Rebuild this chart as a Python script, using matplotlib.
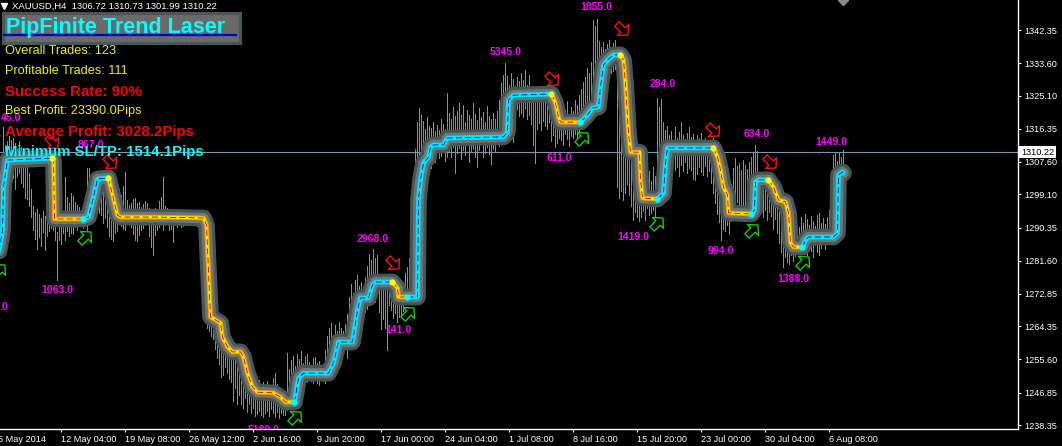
import numpy as np
import matplotlib
matplotlib.use("Agg")
import matplotlib.pyplot as plt
from matplotlib.path import Path
from matplotlib.patches import Rectangle
from matplotlib.lines import Line2D
from matplotlib.transforms import Affine2D, blended_transform_factory

plt.rcParams["font.family"] = ["Liberation Sans", "DejaVu Sans"]

# ---- data --------------------------------------------------------------
symbol_line = "XAUUSD,H4  1306.72 1310.73 1301.99 1310.22"
last_price = 1310.22

price_ticks = [1342.35, 1333.60, 1325.10, 1316.35, 1307.60, 1299.10, 1290.35,
               1281.60, 1272.85, 1264.35, 1255.60, 1246.85, 1238.35]
first_date = "5 May 2014"
date_ticks = [32, 64, 96, 128, 160, 192, 224, 256, 288, 320, 352, 384, 416]
date_labels = ["12 May 04:00", "19 May 08:00", "26 May 12:00", "2 Jun 16:00",
               "9 Jun 20:00", "17 Jun 00:00", "24 Jun 04:00", "1 Jul 08:00",
               "8 Jul 16:00", "15 Jul 20:00", "23 Jul 00:00", "30 Jul 04:00",
               "6 Aug 08:00"]

# H4 bar highs / lows (bars 1..423)
bar_high = [
    1300.0, 1305.0, 1316.8, 1312.0, 1313.0, 1314.5,
    1313.4, 1314.0, 1312.5, 1311.0, 1313.2, 1311.6, 1310.4, 1309.3, 1308.0, 1304.8,
    1300.5, 1296.0, 1294.5, 1295.1, 1294.0, 1292.8, 1294.6, 1293.5, 1294.2, 1295.1, 1294.8,
    1294.1, 1293.0, 1289.2, 1291.7, 1291.2, 1292.0, 1303.6, 1298.4, 1296.8, 1299.5,
    1298.6, 1297.0, 1296.2, 1295.7, 1294.8, 1296.0,
    1298.4, 1306.0, 1306.0, 1304.4, 1302.9, 1305.0, 1303.5, 1301.5, 1303.8, 1302.0, 1300.1, 1298.5,
    1299.4, 1298.0, 1299.0, 1297.2, 1297.0, 1300.5, 1298.9, 1301.2, 1305.0, 1297.6,
    1296.3, 1296.9, 1297.9, 1298.1, 1296.7, 1297.0, 1295.8, 1296.5, 1297.4, 1296.8,
    1295.5, 1294.9, 1295.0, 1295.6, 1295.2, 1297.4, 1298.3, 1303.6, 1296.0, 1295.5,
    1295.0, 1294.6, 1295.0, 1294.3, 1294.2, 1294.5, 1294.2, 1294.0, 1294.4, 1293.9,
    1294.2, 1293.8, 1293.6, 1293.8, 1293.6, 1293.5, 1293.2, 1292.1,
    1289.0, 1286.0, 1281.0, 1278.0, 1270.0,
    1268.5, 1267.2, 1266.5, 1264.6, 1262.8, 1262.0, 1261.0,
    1259.3, 1258.4, 1259.0, 1257.6, 1258.0, 1256.6, 1256.1, 1255.0, 1254.0, 1252.7,
    1251.6, 1250.8, 1249.5, 1249.8, 1248.9, 1250.1, 1248.4,
    1249.6, 1248.0, 1250.0, 1247.7, 1248.9, 1250.8, 1252.0, 1249.2, 1247.6, 1247.0,
    1246.6, 1246.2, 1257.3, 1253.0, 1255.5, 1256.5, 1254.0,
    1257.0, 1255.6, 1257.8, 1254.8, 1256.5, 1257.0, 1255.0, 1254.2, 1255.9, 1256.3,
    1254.7, 1255.2, 1253.9, 1254.5, 1258.0, 1261.9,
    1264.0, 1265.2, 1262.0, 1264.6, 1263.1, 1265.5, 1264.0, 1263.0, 1265.0, 1267.5, 1272.0,
    1275.5, 1273.2, 1276.6, 1277.8, 1275.0, 1276.1, 1274.7, 1277.2, 1280.1, 1283.5, 1281.8,
    1284.8, 1282.3, 1283.0, 1278.0, 1276.9, 1277.5, 1276.2, 1275.0, 1277.0, 1275.5,
    1273.0, 1272.5, 1274.0, 1272.0, 1273.5, 1276.0, 1278.4, 1280.0,
    1282.3, 1287.0, 1300.0, 1311.0, 1318.0, 1321.8,
    1320.1, 1318.4, 1316.2, 1319.5, 1317.0, 1316.5, 1318.2, 1315.8, 1317.3, 1316.0,
    1319.0, 1317.6, 1316.4, 1325.8,
    1320.6, 1318.8, 1322.0, 1319.6, 1321.0, 1323.0, 1319.9, 1322.6, 1318.2, 1321.4,
    1320.0, 1319.0, 1323.1, 1320.3, 1318.6, 1321.7, 1319.4, 1320.8, 1318.0, 1322.4,
    1319.8, 1318.9, 1320.5, 1319.0, 1321.0, 1324.0,
    1328.5, 1330.5, 1333.7, 1330.2, 1328.0, 1331.0, 1329.4, 1327.6, 1330.0, 1328.8,
    1331.0, 1329.2, 1331.8, 1328.0, 1330.4, 1327.2, 1325.6, 1323.1, 1326.5, 1325.0,
    1327.0, 1325.8, 1326.3, 1324.4, 1325.3,
    1322.0, 1323.5, 1321.0, 1320.2, 1322.8, 1320.6, 1319.8, 1321.4, 1323.6, 1320.0,
    1322.0, 1321.1, 1324.0, 1322.6, 1325.2,
    1326.8, 1328.6, 1330.0, 1332.4, 1331.0, 1334.0, 1345.0, 1343.5, 1345.3,
    1339.5, 1338.0, 1339.2, 1337.3, 1338.6, 1339.6, 1337.5, 1338.8, 1339.8, 1334.5, 1333.0,
    1316.0, 1315.2, 1314.0, 1312.4, 1310.8, 1313.0, 1308.9, 1307.0, 1306.0, 1305.0,
    1306.0, 1304.3, 1307.3, 1303.0, 1305.2, 1302.5, 1306.2, 1303.8, 1324.4, 1322.0,
    1324.2, 1318.0,
    1316.0, 1317.2, 1314.6, 1315.8, 1313.2, 1316.9, 1314.0, 1315.5, 1318.1, 1314.8,
    1313.6, 1315.3, 1316.8, 1314.2, 1315.0, 1313.0, 1314.6, 1313.8, 1315.2, 1313.3,
    1314.0, 1312.8, 1313.5, 1312.6,
    1314.0, 1310.0, 1311.4, 1308.5, 1307.0, 1305.6, 1304.3, 1302.8, 1303.6, 1301.8,
    1306.0, 1308.6, 1306.5, 1307.4, 1305.5, 1308.0, 1306.9, 1305.8, 1307.7, 1309.0,
    1310.2, 1312.1, 1310.6,
    1304.5, 1302.9, 1303.6, 1302.0, 1301.5, 1303.0, 1300.8, 1301.9, 1300.6, 1299.8, 1298.6,
    1296.0, 1294.6, 1295.0, 1293.2, 1292.0, 1290.5, 1291.8, 1289.0, 1288.4, 1290.6,
    1293.0, 1291.5, 1294.0, 1292.6, 1291.0, 1293.3, 1292.0, 1290.8, 1293.7, 1294.2,
    1291.6, 1292.8, 1291.4, 1293.0, 1295.0, 1297.5,
    1309.5, 1310.3, 1307.8, 1310.0, 1309.0, 1310.73,
]
bar_low = [
    1282.0, 1285.0, 1290.0, 1296.0, 1300.0, 1303.0,
    1301.0, 1303.5, 1300.5, 1303.8, 1304.6, 1302.0, 1300.9, 1298.0, 1297.8, 1296.1,
    1293.2, 1289.8, 1287.4, 1284.7, 1287.9, 1285.6, 1289.2, 1284.5, 1288.1, 1289.5, 1290.3,
    1289.7, 1287.0, 1276.5, 1287.1, 1285.9, 1288.9, 1287.1, 1289.3, 1288.0, 1289.0,
    1288.7, 1290.5, 1289.7, 1291.0, 1290.7, 1290.1,
    1292.3, 1289.7, 1294.5, 1298.1, 1295.8, 1297.0, 1296.0, 1294.2, 1293.7, 1291.6, 1292.9, 1290.4,
    1288.0, 1287.2, 1286.9, 1289.0, 1289.3, 1294.2, 1290.7, 1290.0, 1289.7, 1293.2,
    1292.0, 1290.6, 1288.6, 1287.0, 1286.8, 1288.5, 1289.6, 1290.3, 1291.0, 1291.6,
    1288.0, 1285.2, 1283.1, 1288.4, 1289.7, 1290.4, 1291.2, 1289.7, 1292.0, 1291.5,
    1289.8, 1290.0, 1286.5, 1290.9, 1290.6, 1291.2, 1290.6, 1290.8, 1291.2, 1291.0,
    1291.6, 1291.3, 1291.8, 1291.5, 1290.7, 1291.0, 1289.0, 1268.6,
    1266.0, 1264.0, 1263.0, 1261.8, 1261.0,
    1258.3, 1256.0, 1254.4, 1251.1, 1251.6, 1253.6, 1252.0,
    1250.5, 1249.6, 1244.6, 1248.1, 1243.8, 1246.2, 1244.0, 1242.8, 1245.4, 1241.9,
    1243.8, 1241.5, 1242.8, 1240.6, 1241.2, 1242.0, 1240.9,
    1240.4, 1241.4, 1242.0, 1240.8, 1242.5, 1241.6, 1240.5, 1241.8, 1240.2, 1241.5,
    1240.9, 1241.0, 1242.3, 1243.0, 1244.0, 1245.5, 1246.5,
    1247.5, 1249.0, 1250.1, 1249.6, 1250.4, 1249.8, 1250.8, 1250.0, 1249.4, 1250.5,
    1249.3, 1249.0, 1250.2, 1250.0, 1249.5, 1251.5,
    1252.8, 1255.0, 1254.1, 1256.3, 1257.5, 1258.0, 1256.6, 1257.4, 1258.8, 1256.0, 1258.5,
    1260.2, 1263.0, 1264.8, 1265.4, 1266.7, 1263.8, 1266.0, 1268.1, 1268.9, 1270.0, 1272.3,
    1272.0, 1270.8, 1273.0, 1268.0, 1263.5, 1266.2, 1264.0, 1258.2, 1270.0, 1268.5,
    1266.5, 1267.8, 1265.4, 1266.8, 1267.4, 1268.3, 1270.2, 1271.0,
    1272.0, 1274.0, 1278.0, 1288.0, 1297.0, 1303.0,
    1305.3, 1304.7, 1307.9, 1306.5, 1308.2, 1306.0, 1309.4, 1307.5, 1310.0, 1308.6,
    1309.1, 1310.4, 1307.8, 1309.0,
    1310.2, 1309.0, 1311.6, 1304.8, 1310.0, 1311.2, 1308.5, 1310.7, 1309.5, 1312.0,
    1307.7, 1310.4, 1311.0, 1309.0, 1306.3, 1310.8, 1312.3, 1308.8, 1310.0, 1311.5,
    1309.6, 1307.1, 1311.0, 1310.3, 1312.6, 1311.8,
    1314.0, 1316.8, 1319.0, 1321.0, 1317.6, 1320.8, 1312.8, 1318.2, 1321.5, 1319.7,
    1320.6, 1319.4, 1321.8, 1318.9, 1320.0, 1317.6, 1312.0, 1307.3, 1316.4, 1317.8,
    1316.0, 1318.5, 1317.0, 1316.2, 1318.0,
    1313.0, 1314.6, 1311.5, 1312.6, 1314.0, 1313.3, 1312.1, 1314.9, 1313.6, 1311.8,
    1314.5, 1313.8, 1315.0, 1314.2, 1315.5,
    1317.0, 1318.4, 1319.6, 1320.3, 1321.0, 1322.5, 1327.3, 1325.2, 1328.0,
    1328.5, 1330.3, 1331.0, 1330.0, 1331.8, 1332.4, 1330.9, 1331.5, 1332.0, 1301.0, 1298.0,
    1300.0, 1297.6, 1299.5, 1301.8, 1299.0, 1296.0, 1292.3, 1294.5, 1293.0, 1292.0,
    1293.0, 1294.8, 1292.3, 1295.6, 1293.6, 1294.2, 1295.0, 1293.0, 1296.5, 1298.4,
    1300.0, 1302.2,
    1303.5, 1305.0, 1306.8, 1304.6, 1307.3, 1305.6, 1306.2, 1304.0, 1306.8, 1305.1,
    1307.6, 1304.8, 1306.0, 1305.4, 1303.0, 1302.9, 1304.5, 1306.4, 1305.0, 1304.2,
    1306.6, 1303.8, 1305.2, 1302.0,
    1299.5, 1296.8, 1294.0, 1291.8, 1287.0, 1290.0, 1289.4, 1291.0, 1288.6, 1292.0,
    1294.2, 1295.5, 1297.0, 1294.8, 1296.1, 1295.4, 1293.6, 1296.3, 1294.9, 1296.8,
    1297.2, 1298.0, 1299.2,
    1294.6, 1296.2, 1293.0, 1295.0, 1292.3, 1294.4, 1293.5, 1290.0, 1292.6, 1289.0, 1286.3,
    1284.0, 1280.0, 1282.6, 1281.4, 1280.8, 1283.0, 1281.6, 1282.8, 1283.6, 1284.2,
    1284.8, 1283.5, 1285.5, 1283.0, 1285.0, 1284.2, 1282.6, 1285.8, 1284.0, 1283.2,
    1285.0, 1286.3, 1284.6, 1286.0, 1287.2, 1288.0,
    1290.0, 1298.5, 1300.6, 1301.8, 1303.0, 1301.99,
]

# Trend Laser line, one list per trend leg (bar index, price)
laser_trend = ["up", "down", "up", "down", "up", "down", "up", "down",
               "up", "down", "up", "down", "up", "down", "up"]
laser_bars = [
    [0, 1.5, 2.5, 3.0, 5.0, 27.5],
    [27.5, 28, 28.5, 43],
    [43, 45.5, 48, 50, 55.5],
    [55.5, 57.5, 60, 61.5, 79, 103, 104.5, 106.5, 107.5, 111.5, 112.5, 115,
     117.5, 121.5, 123, 125, 127.5, 130, 138, 141.5, 144, 148.5],
    [148.5, 150.5, 153, 165.5, 168, 170.5, 177.5, 180, 181.5, 185.5, 187.5, 189, 197.5],
    [197.5, 200, 200.5, 205],
    [205, 210, 210.5, 211.5, 213, 215.5, 216.5, 218, 223, 225, 253, 255, 255.5, 258, 277],
    [277, 279, 280.5, 281.5, 291.5],
    [291.5, 295, 297.5, 300.5, 301.5, 303, 305, 308, 311.5],
    [311.5, 313, 314, 315.5, 316.5, 321, 321.5, 322.5, 330],
    [330, 333, 334, 335, 358],
    [358, 360, 361.5, 363, 365, 365.5, 377],
    [377, 378.5, 379, 380.5, 385.5],
    [385.5, 388, 390.5, 394, 395.5, 396.5, 398, 402.5],
    [402.5, 404, 405.5, 418, 420, 420.5, 422.5, 423],
]
laser_prices = [
    [1282.0, 1286.3, 1289.5, 1301.0, 1308.1, 1308.6],
    [1308.6, 1308.1, 1292.6, 1292.6],
    [1292.6, 1293.1, 1298.4, 1303.1, 1303.4],
    [1303.4, 1298.9, 1293.6, 1293.1, 1293.1, 1292.85, 1291.0, 1266.8, 1266.5, 1265.2,
     1261.5, 1258.9, 1257.6, 1257.6, 1256.25, 1252.0, 1248.35, 1247.0, 1246.8, 1245.7,
     1244.4, 1244.4],
    [1244.4, 1250.7, 1252.0, 1252.0, 1254.7, 1260.2, 1260.2, 1268.6, 1271.8, 1271.8,
     1275.2, 1276.0, 1276.0],
    [1276.0, 1274.4, 1272.05, 1272.05],
    [1272.05, 1272.05, 1297.6, 1302.9, 1307.3, 1308.9, 1311.55, 1312.1, 1312.1, 1313.9,
     1314.2, 1315.5, 1323.9, 1325.2, 1325.5],
    [1325.5, 1323.1, 1319.4, 1318.1, 1318.1],
    [1318.1, 1320.0, 1321.8, 1322.1, 1327.3, 1333.1, 1334.45, 1335.8, 1335.8],
    [1335.8, 1334.45, 1328.4, 1315.2, 1310.2, 1310.2, 1302.9, 1298.1, 1297.85],
    [1297.85, 1299.4, 1307.3, 1311.3, 1311.3],
    [1311.3, 1308.9, 1305.5, 1301.0, 1298.9, 1294.2, 1293.9],
    [1293.9, 1295.0, 1302.3, 1302.9, 1302.9],
    [1302.9, 1301.0, 1297.6, 1297.1, 1294.2, 1286.3, 1285.2, 1285.2],
    [1285.2, 1287.05, 1287.85, 1287.85, 1288.9, 1304.2, 1305.0, 1304.7],
]

# signal arrows
sell_bars = [27.5, 56.5, 198, 277.5, 312.5, 358, 386.5]
sell_prices = [1312.9, 1307.6, 1281.0, 1329.45, 1342.6, 1316.0, 1307.6]
buy_bars = [0.5, 44, 149, 205.5, 292.5, 330, 377.5, 403]
buy_prices = [1279.2, 1287.85, 1240.5, 1267.8, 1313.9, 1291.5, 1289.7, 1281.3]

# pip result labels
pip_labels = ["45.0", ".0", "867.0", "1063.0", "5189.0", "2968.0", "141.0", "5345.0",
              "611.0", "1855.0", "284.0", "1419.0", "994.0", "634.0", "1449.0", "1388.0"]
pip_bars = [6.75, 3.25, 46.5, 30, 133, 187.5, 200.5, 254, 281, 299.5, 332.5, 318,
            361.5, 379.5, 417, 398]
pip_prices = [1319.2, 1269.4, 1312.1, 1273.9, 1237.0, 1287.3, 1263.4, 1336.6, 1308.65,
              1348.5, 1328.1, 1287.85, 1284.2, 1315.0, 1312.9, 1276.8]

stats = [("Overall Trades: 123", "#eeee00", "normal"),
         ("Profitable Trades: 111", "#eeee00", "normal"),
         ("Success Rate: 90%", "#ff0000", "bold"),
         ("Best Profit: 23390.0Pips", "#eeee00", "normal"),
         ("Average Profit: 3028.2Pips", "#ff0000", "bold"),
         ("Minimum SL/TP: 1514.1Pips", "#00ffff", "bold")]

assert len(bar_high) == len(bar_low)

# ---- figure ---------------------------------------------------------------
W, H = 1062, 446
fig = plt.figure(figsize=(W / 100, H / 100), dpi=100, facecolor="black")
ax = fig.add_axes([0, 17 / H, 1018 / W, 429 / H], facecolor="black")
ax.set_xlim(1.25, 510.25)
ax.set_ylim(1237.3, 1350.25)

ax.axhline(last_price, color="#8395a7", lw=0.8, zorder=1)

# bars: crisp one-pixel green lines
x = np.arange(1, len(bar_high) + 1)
ax.vlines(x, bar_low, bar_high, colors="#2ed12e", linewidth=0.5,
          antialiased=False, zorder=2)

# laser glow band along the whole path
path_x, path_y = [], []
for bars, prices in zip(laser_bars, laser_prices):
    start = 1 if path_x else 0
    path_x += bars[start:]
    path_y += prices[start:]
band = dict(solid_joinstyle="round", solid_capstyle="round")
ax.plot(path_x, path_y, color="#435757", lw=12, zorder=3, **band)
ax.plot(path_x, path_y, color="#727474", lw=7.5, zorder=3.5, **band)

for trend, bars, prices in zip(laser_trend, laser_bars, laser_prices):
    if trend == "up":
        ax.plot(bars, prices, color="#00e5ff", lw=3.4, zorder=5, **band)
        ax.plot(bars, prices, color="#00008b", lw=0.6, ls=(0, (7, 4)), zorder=6)
    else:
        ax.plot(bars, prices, color="#ff9c00", lw=3.4, zorder=5, **band)
        ax.plot(bars, prices, color="#ffee00", lw=1.8, zorder=5.5, **band)
        ax.plot(bars, prices, color="#8b0000", lw=0.6, ls=(0, (7, 4)), zorder=6)

for trend, bars, prices in zip(laser_trend[1:], laser_bars[1:], laser_prices[1:]):
    ax.plot(bars[0], prices[0], "o", ms=4.5, mew=0, zorder=7,
            color="#00ffff" if trend == "up" else "#ffff00")

# hollow arrows
arrow = Path([(-0.5, -0.2), (0.05, -0.2), (0.05, -0.5), (0.5, 0.0),
              (0.05, 0.5), (0.05, 0.2), (-0.5, 0.2), (-0.5, -0.2)],
             closed=True)
down_arrow = arrow.transformed(Affine2D().rotate_deg(-45))
up_arrow = arrow.transformed(Affine2D().rotate_deg(45))
ax.plot(sell_bars, sell_prices, ls="none", marker=down_arrow, ms=11, mfc="none",
        mec="#ff1010", mew=1.0, zorder=8)
ax.plot(buy_bars, buy_prices, ls="none", marker=up_arrow, ms=11, mfc="none",
        mec="#10d010", mew=1.0, zorder=8)

for txt, bx, py in zip(pip_labels, pip_bars, pip_prices):
    ax.text(bx, py, txt, color="#ff00ff", fontsize=7.6, fontweight="bold",
            ha="center", va="center", zorder=9, clip_on=True)

ax.plot([423], [1350.2], marker="D", color="#8a8a8a", ms=5, zorder=9)

# ---- axes -----------------------------------------------------------------
for side in ("left", "top"):
    ax.spines[side].set_visible(False)
for side in ("right", "bottom"):
    ax.spines[side].set_color("white")
    ax.spines[side].set_linewidth(1)

ax.yaxis.tick_right()
ax.set_yticks(price_ticks)
ax.set_yticklabels([f"{v:.2f}" for v in price_ticks])
ax.tick_params(axis="y", colors="white", labelsize=6.6, length=2.5, width=0.8, pad=2)
ax.set_xticks(date_ticks)
ax.set_xticklabels(date_labels, ha="left")
ax.tick_params(axis="x", colors="white", labelsize=6.6, length=2.5, width=0.8, pad=1.5)

blend_x = blended_transform_factory(ax.transData, ax.transAxes)
ax.text(0, -6 / 429, first_date, transform=blend_x, color="white", fontsize=6.6,
        ha="left", va="top", clip_on=False)

blend_y = blended_transform_factory(ax.transAxes, ax.transData)
ax.text(1.003, last_price, f"{last_price:.2f}", transform=blend_y, color="black",
        fontsize=6.6, ha="left", va="center", clip_on=False, zorder=10,
        bbox=dict(boxstyle="square,pad=0.2", fc="white", ec="none"))

# ---- info panel -------------------------------------------------------------
ax.plot([4 / 1018], [1 - 5.5 / 429], marker="v", color="white", ms=4.5,
        transform=ax.transAxes, clip_on=False, zorder=10)
fig.text(12 / W, 1 - 6 / H, symbol_line, color="white", fontsize=6.8,
         ha="left", va="center")

fig.patches.append(Rectangle((3 / W, 1 - 43 / H), 237 / W, 30 / H,
                             transform=fig.transFigure, fc="#6a6a6a",
                             ec="#485858", lw=2.2, zorder=11))
fig.lines.append(Line2D([4 / W, 236 / W], [1 - 34.5 / H, 1 - 34.5 / H],
                        transform=fig.transFigure, color="#0000c8", lw=1.6,
                        zorder=12))
fig.text(6 / W, 1 - 33 / H, "PipFinite Trend Laser", color="#00ffff",
         fontsize=15.5, fontweight="bold", ha="left", va="baseline", zorder=13)

for i, (txt, col, weight) in enumerate(stats):
    ypix = [51, 71, 92, 111, 132, 152][i]
    fig.text(5 / W, 1 - ypix / H, txt, color=col, ha="left", va="center",
             fontsize=9.2 if weight == "normal" else 10.8, fontweight=weight,
             zorder=13)

fig.savefig("out.png", dpi=100, facecolor="black")
